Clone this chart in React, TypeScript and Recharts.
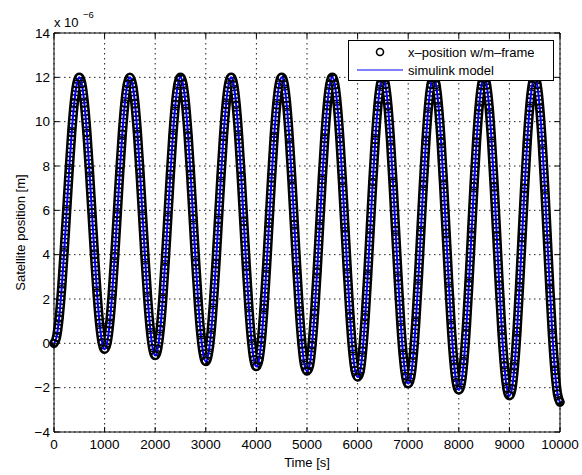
import { CartesianGrid, Line, LineChart, ReferenceArea, XAxis, YAxis } from 'recharts'

// samples every 50 s, values in units of 1e-6 m, one array per oscillation
const SAMPLE_STEP = 50

const cycle1 = [0, 0.28, 1.12, 2.44, 4.11, 5.97, 7.83, 9.51, 10.84, 11.7, 12.0, 11.7, 10.84, 9.49, 7.79, 5.9, 4.01, 2.29, 0.93, 0.05]
const cycle2 = [-0.27, 0.02, 0.88, 2.23, 3.94, 5.83, 7.74, 9.45, 10.82, 11.7, 12.0, 11.7, 10.81, 9.44, 7.7, 5.77, 3.83, 2.08, 0.69, -0.21]
const cycle3 = [-0.55, -0.24, 0.64, 2.02, 3.76, 5.7, 7.64, 9.4, 10.79, 11.69, 12.0, 11.69, 10.79, 9.38, 7.61, 5.64, 3.66, 1.87, 0.45, -0.47]
const cycle4 = [-0.82, -0.49, 0.4, 1.81, 3.59, 5.57, 7.55, 9.34, 10.77, 11.68, 12.0, 11.68, 10.76, 9.33, 7.52, 5.5, 3.49, 1.66, 0.21, -0.73]
const cycle5 = [-1.05, -0.75, 0.16, 1.6, 3.42, 5.44, 7.46, 9.29, 10.74, 11.68, 12.0, 11.68, 10.74, 9.27, 7.42, 5.37, 3.31, 1.45, -0.03, -0.97]
const cycle6 = [-1.25, -1.01, -0.08, 1.39, 3.24, 5.3, 7.37, 9.23, 10.72, 11.67, 12.0, 11.67, 10.71, 9.22, 7.33, 5.24, 3.14, 1.24, -0.27, -1.22]
const cycle7 = [-1.52, -1.27, -0.32, 1.18, 3.07, 5.17, 7.28, 9.18, 10.69, 11.66, 12.0, 11.66, 10.69, 9.16, 7.24, 5.11, 2.97, 1.03, -0.51, -1.48]
const cycle8 = [-1.82, -1.53, -0.56, 0.97, 2.9, 5.04, 7.19, 9.13, 10.67, 11.66, 12.0, 11.66, 10.66, 9.11, 7.15, 4.97, 2.79, 0.82, -0.75, -1.76]
const cycle9 = [-2.1, -1.79, -0.8, 0.76, 2.72, 4.91, 7.09, 9.07, 10.64, 11.65, 12.0, 11.65, 10.64, 9.05, 7.06, 4.84, 2.62, 0.61, -0.99, -2.02]
const cycle10 = [-2.36, -2.05, -1.04, 0.55, 2.55, 4.77, 7.0, 9.02, 10.62, 11.64, 12.0, 11.64, 10.61, 9.0, 6.97, 4.71, 2.45, 0.4, -1.23, -2.28]
const lastSample = [-2.65]

const timeTicks = [0, 1000, 2000, 3000, 4000, 5000, 6000, 7000, 8000, 9000, 10000]
const positionTicks = [-4, -2, 0, 2, 4, 6, 8, 10, 12, 14]

const seriesNames = ['x\u2013position w/m\u2013frame', 'simulink model']

const position = [
  ...cycle1, ...cycle2, ...cycle3, ...cycle4, ...cycle5,
  ...cycle6, ...cycle7, ...cycle8, ...cycle9, ...cycle10, ...lastSample,
]
const data = position.map((y, i) => ({ t: i * SAMPLE_STEP, y }))

const W = 582
const H = 475
const PLOT = { left: 54, top: 33, right: 560, bottom: 432 }
const FONT = '"Liberation Sans", Arial, Helvetica, sans-serif'

function TimeTick(props: any) {
  const { x, payload } = props
  return (
    <g>
      <line x1={x} x2={x} y1={PLOT.bottom} y2={PLOT.bottom - 5} stroke="#000" />
      <line x1={x} x2={x} y1={PLOT.top} y2={PLOT.top + 5} stroke="#000" />
      <text x={x} y={PLOT.bottom + 17} textAnchor="middle" fontSize={13.5} fontFamily={FONT} fill="#000">
        {payload.value}
      </text>
    </g>
  )
}

function PositionTick(props: any) {
  const { y, payload } = props
  return (
    <g>
      <line x1={PLOT.left} x2={PLOT.left + 5} y1={y} y2={y} stroke="#000" />
      <line x1={PLOT.right} x2={PLOT.right - 5} y1={y} y2={y} stroke="#000" />
      <text x={PLOT.left - 4} y={y + 4.5} textAnchor="end" fontSize={13.5} fontFamily={FONT} fill="#000">
        {payload.value < 0 ? `\u2212${-payload.value}` : payload.value}
      </text>
    </g>
  )
}

export default function App() {
  return (
    <div style={{ position: 'absolute', left: 0, top: 0, width: W, height: H, background: '#fff' }}>
      <LineChart
        width={W}
        height={H}
        data={data}
        margin={{ top: PLOT.top, right: W - PLOT.right, bottom: 0, left: 0 }}
      >
        <CartesianGrid stroke="#222" strokeDasharray="1.5 3.5" />
        <XAxis
          dataKey="t"
          type="number"
          domain={[0, 10000]}
          ticks={timeTicks}
          height={H - PLOT.bottom}
          axisLine={false}
          tickLine={false}
          tick={<TimeTick />}
          interval={0}
        />
        <YAxis
          type="number"
          domain={[-4, 14]}
          ticks={positionTicks}
          width={PLOT.left}
          axisLine={false}
          tickLine={false}
          tick={<PositionTick />}
          interval={0}
        />
        <ReferenceArea x1={0} x2={10000} y1={-4} y2={14} fill="none" stroke="#000" strokeWidth={1} ifOverflow="visible" />
        {/* ring markers drawn as a chain: black band, white ring interiors, circle outlines */}
        <Line dataKey="y" name="marker band" type="monotone" stroke="#000" strokeWidth={9.5} strokeLinecap="round" dot={false} isAnimationActive={false} />
        <Line dataKey="y" name="marker fill" type="monotone" stroke="#fff" strokeWidth={4.5} strokeDasharray="2.5 1.6" dot={false} isAnimationActive={false} />
        <Line
          dataKey="y"
          name={seriesNames[0]}
          type="monotone"
          stroke="none"
          dot={{ r: 3.6, stroke: '#000', strokeWidth: 1.4, fill: 'none' }}
          isAnimationActive={false}
        />
        <Line dataKey="y" name={seriesNames[1]} type="monotone" stroke="#0000ff" strokeWidth={2} dot={false} isAnimationActive={false} />
      </LineChart>

      <svg width={W} height={H} style={{ position: 'absolute', left: 0, top: 0, pointerEvents: 'none' }}>
        <text x={54} y={27} fontSize={13} fontFamily={FONT} fill="#000">x 10</text>
        <text x={83} y={18} fontSize={9.5} fontFamily={FONT} fill="#000">{'\u22126'}</text>
        <text x={(PLOT.left + PLOT.right) / 2} y={467} textAnchor="middle" fontSize={13} fontFamily={FONT} fill="#000">
          Time [s]
        </text>
        <text
          transform={`translate(25, ${(PLOT.top + PLOT.bottom) / 2}) rotate(-90)`}
          textAnchor="middle"
          fontSize={13}
          fontFamily={FONT}
          fill="#000"
        >
          Satellite position [m]
        </text>

        <rect x={348.5} y={40.5} width={205} height={40} fill="#fff" stroke="#000" />
        <circle cx={380} cy={52} r={3.5} fill="none" stroke="#000" strokeWidth={1.6} />
        <text x={408} y={56.5} fontSize={13} fontFamily={FONT} fill="#000">{seriesNames[0]}</text>
        <line x1={357} x2={403} y1={70} y2={70} stroke="#0000ff" strokeWidth={1} />
        <text x={408} y={74.5} fontSize={13} fontFamily={FONT} fill="#000">{seriesNames[1]}</text>
      </svg>
    </div>
  )
}
